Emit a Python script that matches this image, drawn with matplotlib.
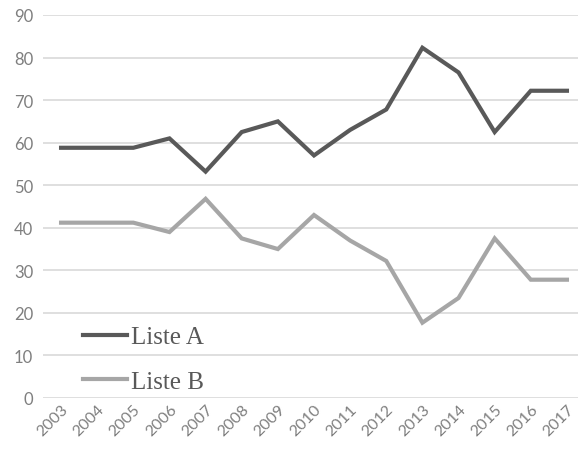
import matplotlib
matplotlib.use("Agg")
import matplotlib.pyplot as plt

years = [str(y) for y in range(2003, 2018)]
liste_a = [58.8, 58.8, 58.8, 61.0, 53.2, 62.5, 65.0, 57.0, 63.0, 67.8, 82.3, 76.5, 62.5, 72.2, 72.2]
liste_b = [41.2, 41.2, 41.2, 39.0, 46.8, 37.5, 35.0, 43.0, 37.0, 32.2, 17.7, 23.5, 37.5, 27.8, 27.8]
y_ticks = list(range(0, 91, 10))

W, H = 578, 456
fig = plt.figure(figsize=(W / 100, H / 100), dpi=100)
ax = fig.add_axes([43 / W, 1 - 399 / H, 542 / W, (399 - 16) / H])

x = range(len(years))
ax.plot(x, liste_a, color="#595959", lw=3.0, solid_joinstyle="miter", label="Liste A")
ax.plot(x, liste_b, color="#a6a6a6", lw=3.0, solid_joinstyle="miter", label="Liste B")

ax.set_xlim(-0.5, 14.5)
ax.set_ylim(0, 90)
ax.set_yticks(y_ticks)
ax.set_xticks(list(x))
ax.set_xticklabels(years, rotation=45, ha="right", rotation_mode="anchor",
                   fontsize=11.5, color="#7f7f7f", family="Lato")
ax.set_yticklabels([str(v) for v in y_ticks], fontsize=12, color="#7f7f7f", family="Lato")
ax.tick_params(length=0, pad=7)
ax.tick_params(axis="x", pad=3)
ax.grid(axis="y", color="#d9d9d9", lw=1.2)
ax.set_axisbelow(True)
for s in ax.spines.values():
    s.set_visible(False)

ax.legend(loc="lower left", bbox_to_anchor=(0.033, -0.045), frameon=False,
          prop={"family": "Liberation Serif", "size": 18},
          handlelength=1.75, handletextpad=0.15, labelspacing=0.87,
          labelcolor="#595959")

fig.savefig("out.png", dpi=100, facecolor="white")
